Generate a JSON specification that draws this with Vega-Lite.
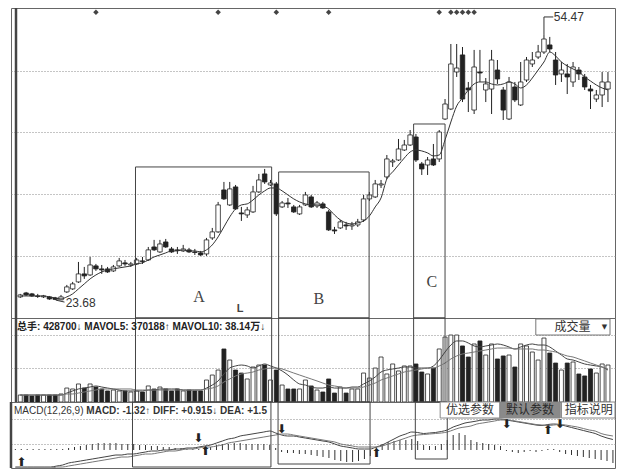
{
"$schema": "https://vega.github.io/schema/vega-lite/v6.json",
"padding": {"left": 9, "top": 6, "right": 10, "bottom": 7},
"background": "white",
"spacing": 0,
"bounds": "flush",
"config": {
  "view": {"stroke": "#666", "strokeWidth": 1},
  "concat": {"spacing": 0},
  "axis": {"minExtent": 0, "labels": false, "ticks": false, "domain": false, "title": null, "grid": true, "gridDash": [1, 2], "gridColor": "#8a8a8a", "gridWidth": 1}
},
"datasets": {
"k": [
{"i":0,"o":24.05,"h":24.40,"l":23.93,"c":24.28,"ma":24.16,"v":8.1,"m5":8.1,"m10":8.1,"dif":-1.7,"dea":-1.8,"mac":0.1},
{"i":1,"o":24.51,"h":24.63,"l":24.16,"c":24.28,"ma":24.16,"v":8.1,"m5":8.1,"m10":8.1,"dif":-1.7,"dea":-1.8,"mac":0.1},
{"i":2,"o":24.40,"h":24.51,"l":24.05,"c":24.16,"ma":24.16,"v":7.0,"m5":8.1,"m10":8.1,"dif":-1.7,"dea":-1.8,"mac":0.1},
{"i":3,"o":24.16,"h":24.40,"l":23.93,"c":24.10,"ma":24.16,"v":8.1,"m5":8.1,"m10":8.1,"dif":-1.7,"dea":-1.8,"mac":0.1},
{"i":4,"o":24.05,"h":24.28,"l":23.93,"c":24.16,"ma":24.16,"v":8.1,"m5":8.1,"m10":8.1,"dif":-1.7,"dea":-1.8,"mac":0.1},
{"i":5,"o":24.05,"h":24.16,"l":23.70,"c":23.81,"ma":24.05,"v":8.1,"m5":8.1,"m10":8.1,"dif":-1.7,"dea":-1.8,"mac":0.1},
{"i":6,"o":23.93,"h":24.05,"l":23.68,"c":23.76,"ma":23.93,"v":8.1,"m5":8.1,"m10":8.1,"dif":-1.7,"dea":-1.8,"mac":0.1},
{"i":7,"o":23.70,"h":24.28,"l":23.70,"c":24.05,"ma":23.81,"v":9.3,"m5":8.1,"m10":8.1,"dif":-1.6,"dea":-1.7,"mac":0.1},
{"i":8,"o":24.63,"h":25.44,"l":24.51,"c":25.21,"ma":24.05,"v":16.2,"m5":10.4,"m10":9.3,"dif":-1.5,"dea":-1.7,"mac":0.1},
{"i":9,"o":24.98,"h":25.79,"l":24.86,"c":25.56,"ma":24.40,"v":15.1,"m5":12.8,"m10":9.3,"dif":-1.3,"dea":-1.6,"mac":0.2},
{"i":10,"o":25.79,"h":28.11,"l":25.67,"c":26.72,"ma":24.98,"v":20.9,"m5":15.1,"m10":10.4,"dif":-1.2,"dea":-1.5,"mac":0.3},
{"i":11,"o":26.72,"h":27.53,"l":26.14,"c":26.49,"ma":25.56,"v":16.2,"m5":16.2,"m10":11.6,"dif":-1.1,"dea":-1.4,"mac":0.4},
{"i":12,"o":26.60,"h":28.69,"l":26.49,"c":27.76,"ma":26.14,"v":20.9,"m5":17.4,"m10":12.8,"dif":-1.0,"dea":-1.3,"mac":0.5},
{"i":13,"o":27.65,"h":27.88,"l":27.07,"c":27.30,"ma":26.60,"v":17.4,"m5":18.6,"m10":13.9,"dif":-0.9,"dea":-1.2,"mac":0.6,"f":1},
{"i":14,"o":27.30,"h":27.76,"l":26.72,"c":27.18,"ma":26.95,"v":15.1,"m5":17.4,"m10":15.1,"dif":-0.8,"dea":-1.1,"mac":0.7},
{"i":15,"o":27.30,"h":27.53,"l":26.84,"c":26.95,"ma":27.18,"v":12.8,"m5":16.2,"m10":15.1,"dif":-0.7,"dea":-1.0,"mac":0.7},
{"i":16,"o":27.07,"h":27.76,"l":26.95,"c":27.53,"ma":27.30,"v":13.9,"m5":15.1,"m10":15.1,"dif":-0.6,"dea":-0.9,"mac":0.7},
{"i":17,"o":27.65,"h":28.58,"l":27.53,"c":28.23,"ma":27.42,"v":12.8,"m5":13.9,"m10":15.1,"dif":-0.5,"dea":-0.8,"mac":0.7},
{"i":18,"o":28.00,"h":28.34,"l":27.65,"c":27.88,"ma":27.53,"v":12.8,"m5":12.8,"m10":15.1,"dif":-0.5,"dea":-0.7,"mac":0.6},
{"i":19,"o":27.76,"h":28.11,"l":27.53,"c":27.88,"ma":27.65,"v":11.6,"m5":12.8,"m10":15.1,"dif":-0.4,"dea":-0.7,"mac":0.6},
{"i":20,"o":27.88,"h":28.58,"l":27.76,"c":28.34,"ma":27.88,"v":12.8,"m5":12.8,"m10":13.9,"dif":-0.4,"dea":-0.6,"mac":0.6},
{"i":21,"o":28.23,"h":28.69,"l":27.88,"c":28.17,"ma":28.00,"v":11.6,"m5":12.8,"m10":13.9,"dif":-0.3,"dea":-0.5,"mac":0.5},
{"i":22,"o":28.34,"h":29.85,"l":28.23,"c":29.51,"ma":28.34,"v":18.6,"m5":13.9,"m10":13.9,"dif":-0.2,"dea":-0.4,"mac":0.5},
{"i":23,"o":29.85,"h":30.67,"l":29.39,"c":29.51,"ma":28.69,"v":15.1,"m5":13.9,"m10":13.9,"dif":-0.1,"dea":-0.4,"mac":0.4},
{"i":24,"o":29.27,"h":30.67,"l":29.16,"c":30.20,"ma":28.92,"v":17.4,"m5":15.1,"m10":13.9,"dif":-0.1,"dea":-0.3,"mac":0.4},
{"i":25,"o":30.43,"h":30.78,"l":29.74,"c":29.85,"ma":29.16,"v":15.1,"m5":15.1,"m10":13.9,"dif":0.0,"dea":-0.2,"mac":0.3},
{"i":26,"o":29.62,"h":29.85,"l":29.16,"c":29.27,"ma":29.39,"v":12.8,"m5":15.1,"m10":13.9,"dif":0.0,"dea":-0.1,"mac":0.3},
{"i":27,"o":29.51,"h":29.85,"l":29.04,"c":29.45,"ma":29.39,"v":15.1,"m5":15.1,"m10":13.9,"dif":0.1,"dea":-0.1,"mac":0.2},
{"i":28,"o":29.39,"h":30.09,"l":29.27,"c":29.62,"ma":29.51,"v":12.8,"m5":13.9,"m10":13.9,"dif":0.1,"dea":0.0,"mac":0.2},
{"i":29,"o":29.51,"h":29.74,"l":29.16,"c":29.27,"ma":29.39,"v":13.9,"m5":13.9,"m10":13.9,"dif":0.2,"dea":0.1,"mac":0.1},
{"i":30,"o":29.27,"h":29.62,"l":28.92,"c":29.21,"ma":29.39,"v":12.8,"m5":13.9,"m10":13.9,"dif":0.2,"dea":0.1,"mac":0.1},
{"i":31,"o":29.16,"h":29.39,"l":28.81,"c":28.92,"ma":29.27,"v":12.8,"m5":13.9,"m10":13.9,"dif":0.3,"dea":0.2,"mac":0.1},
{"i":32,"o":29.04,"h":30.90,"l":28.81,"c":30.67,"ma":29.51,"v":25.5,"m5":16.2,"m10":15.1,"dif":0.4,"dea":0.3,"mac":0.2},
{"i":33,"o":30.90,"h":32.06,"l":30.67,"c":31.60,"ma":30.09,"v":31.3,"m5":19.7,"m10":16.2,"dif":0.5,"dea":0.3,"mac":0.3},
{"i":34,"o":31.60,"h":35.08,"l":31.48,"c":34.73,"ma":31.02,"v":37.1,"m5":24.4,"m10":18.6,"dif":0.7,"dea":0.4,"mac":0.5,"f":1},
{"i":35,"o":36.47,"h":37.40,"l":35.31,"c":35.43,"ma":32.18,"v":61.5,"m5":32.5,"m10":23.2,"dif":0.9,"dea":0.5,"mac":0.6},
{"i":36,"o":34.73,"h":37.40,"l":34.61,"c":36.59,"ma":33.34,"v":48.7,"m5":39.4,"m10":26.7,"dif":1.1,"dea":0.7,"mac":0.6},
{"i":37,"o":36.82,"h":37.05,"l":34.15,"c":34.27,"ma":34.27,"v":37.1,"m5":41.8,"m10":30.2,"dif":1.2,"dea":0.8,"mac":0.7},
{"i":38,"o":33.80,"h":34.50,"l":32.87,"c":33.69,"ma":34.73,"v":33.6,"m5":42.9,"m10":32.5,"dif":1.4,"dea":0.9,"mac":0.7},
{"i":39,"o":33.57,"h":34.50,"l":33.22,"c":34.15,"ma":34.85,"v":26.7,"m5":41.8,"m10":33.6,"dif":1.5,"dea":1.0,"mac":0.6},
{"i":40,"o":33.92,"h":36.94,"l":33.80,"c":36.24,"ma":35.31,"v":40.6,"m5":39.4,"m10":34.8,"dif":1.6,"dea":1.1,"mac":0.6},
{"i":41,"o":36.24,"h":38.33,"l":36.12,"c":37.63,"ma":35.89,"v":42.9,"m5":41.8,"m10":37.1,"dif":1.7,"dea":1.2,"mac":0.6},
{"i":42,"o":38.33,"h":38.91,"l":37.17,"c":37.40,"ma":36.36,"v":42.9,"m5":44.1,"m10":38.3,"dif":1.8,"dea":1.3,"mac":0.6},
{"i":43,"o":37.05,"h":37.63,"l":36.94,"c":37.28,"ma":36.70,"v":25.5,"m5":41.8,"m10":39.4,"dif":1.9,"dea":1.4,"mac":0.5},
{"i":44,"o":37.17,"h":37.40,"l":33.45,"c":33.69,"ma":36.70,"v":37.1,"m5":39.4,"m10":39.4,"dif":1.7,"dea":1.5,"mac":0.2,"f":1},
{"i":45,"o":34.50,"h":35.19,"l":34.38,"c":34.96,"ma":36.36,"v":19.7,"m5":36.0,"m10":38.3,"dif":1.5,"dea":1.6,"mac":-0.2},
{"i":46,"o":34.96,"h":35.54,"l":34.38,"c":34.85,"ma":35.89,"v":15.1,"m5":31.3,"m10":36.0,"dif":1.4,"dea":1.6,"mac":-0.3},
{"i":47,"o":34.50,"h":34.73,"l":33.80,"c":33.92,"ma":35.43,"v":15.1,"m5":25.5,"m10":33.6,"dif":1.4,"dea":1.5,"mac":-0.3},
{"i":48,"o":33.69,"h":34.73,"l":33.57,"c":34.50,"ma":35.08,"v":15.1,"m5":20.9,"m10":31.3,"dif":1.3,"dea":1.4,"mac":-0.4},
{"i":49,"o":34.73,"h":36.24,"l":34.61,"c":35.89,"ma":34.85,"v":25.5,"m5":19.7,"m10":29.0,"dif":1.2,"dea":1.3,"mac":-0.4},
{"i":50,"o":35.66,"h":35.89,"l":34.38,"c":34.50,"ma":34.73,"v":18.6,"m5":17.4,"m10":26.7,"dif":1.1,"dea":1.2,"mac":-0.5},
{"i":51,"o":34.61,"h":35.19,"l":34.38,"c":34.96,"ma":34.73,"v":13.9,"m5":16.2,"m10":24.4,"dif":1.0,"dea":1.1,"mac":-0.6},
{"i":52,"o":34.85,"h":35.08,"l":34.27,"c":34.38,"ma":34.61,"v":11.6,"m5":16.2,"m10":22.0,"dif":0.9,"dea":1.0,"mac":-0.7},
{"i":53,"o":33.92,"h":34.15,"l":31.71,"c":31.83,"ma":34.27,"v":26.7,"m5":17.4,"m10":19.7,"dif":0.8,"dea":0.9,"mac":-0.8,"f":1},
{"i":54,"o":31.83,"h":32.18,"l":31.36,"c":31.71,"ma":33.57,"v":10.4,"m5":16.2,"m10":18.6,"dif":0.6,"dea":0.8,"mac":-1.0},
{"i":55,"o":32.06,"h":32.99,"l":31.94,"c":32.76,"ma":32.99,"v":17.4,"m5":16.2,"m10":17.4,"dif":0.4,"dea":0.6,"mac":-1.1},
{"i":56,"o":32.41,"h":32.76,"l":31.83,"c":32.29,"ma":32.64,"v":10.4,"m5":16.2,"m10":16.2,"dif":0.3,"dea":0.5,"mac":-1.2},
{"i":57,"o":32.29,"h":32.76,"l":31.83,"c":32.41,"ma":32.52,"v":15.1,"m5":17.4,"m10":16.2,"dif":0.2,"dea":0.4,"mac":-1.2},
{"i":58,"o":32.41,"h":33.11,"l":32.18,"c":32.76,"ma":32.64,"v":15.1,"m5":17.4,"m10":16.2,"dif":0.1,"dea":0.3,"mac":-1.1},
{"i":59,"o":32.99,"h":35.89,"l":32.76,"c":35.43,"ma":32.87,"v":33.6,"m5":20.9,"m10":17.4,"dif":0.1,"dea":0.3,"mac":-0.9},
{"i":60,"o":35.43,"h":36.24,"l":35.19,"c":35.89,"ma":33.45,"v":27.8,"m5":24.4,"m10":19.7,"dif":0.1,"dea":0.3,"mac":-0.6},
{"i":61,"o":35.66,"h":37.63,"l":35.54,"c":37.17,"ma":34.50,"v":39.4,"m5":29.0,"m10":22.0,"dif":0.3,"dea":0.3,"mac":0.3},
{"i":62,"o":37.05,"h":37.63,"l":36.70,"c":37.17,"ma":35.54,"v":52.2,"m5":34.8,"m10":25.5,"dif":0.5,"dea":0.4,"mac":0.6},
{"i":63,"o":37.98,"h":40.53,"l":37.75,"c":40.07,"ma":37.75,"v":32.5,"m5":37.1,"m10":27.8,"dif":0.8,"dea":0.6,"mac":0.8},
{"i":64,"o":39.72,"h":40.07,"l":39.14,"c":39.84,"ma":38.56,"v":44.1,"m5":38.3,"m10":30.2,"dif":1.1,"dea":0.8,"mac":0.9},
{"i":65,"o":39.95,"h":42.39,"l":39.84,"c":41.23,"ma":39.37,"v":36.0,"m5":39.4,"m10":32.5,"dif":1.4,"dea":1.0,"mac":1.0},
{"i":66,"o":41.11,"h":42.28,"l":41.00,"c":41.69,"ma":40.18,"v":41.8,"m5":40.6,"m10":34.8,"dif":1.6,"dea":1.2,"mac":1.0},
{"i":67,"o":41.69,"h":43.43,"l":41.58,"c":42.86,"ma":40.88,"v":41.8,"m5":40.6,"m10":36.0,"dif":1.8,"dea":1.4,"mac":1.1},
{"i":68,"o":42.62,"h":42.97,"l":39.72,"c":39.95,"ma":41.11,"v":44.1,"m5":39.4,"m10":37.1,"dif":1.75,"dea":1.5,"mac":0.9},
{"i":69,"o":39.49,"h":39.72,"l":38.21,"c":38.91,"ma":41.00,"v":34.8,"m5":39.4,"m10":38.3,"dif":1.65,"dea":1.55,"mac":0.5},
{"i":70,"o":39.37,"h":40.30,"l":38.21,"c":39.95,"ma":40.77,"v":32.5,"m5":39.4,"m10":39.4,"dif":1.7,"dea":1.6,"mac":0.4},
{"i":71,"o":40.07,"h":41.81,"l":39.25,"c":39.37,"ma":40.42,"v":39.4,"m5":41.8,"m10":39.4,"dif":1.75,"dea":1.65,"mac":0.4},
{"i":72,"o":40.07,"h":43.43,"l":39.72,"c":43.20,"ma":40.53,"v":61.5,"m5":48.7,"m10":41.8,"dif":1.85,"dea":1.7,"mac":0.6,"f":1},
{"i":73,"o":44.71,"h":47.03,"l":44.59,"c":46.45,"ma":42.28,"v":75.4,"m5":58.0,"m10":45.2,"dif":2.0,"dea":1.8,"mac":1.0},
{"i":74,"o":45.87,"h":53.42,"l":45.75,"c":51.10,"ma":44.36,"v":77.7,"m5":66.1,"m10":49.9,"dif":2.3,"dea":2.0,"mac":1.5,"f":1},
{"i":75,"o":50.17,"h":53.42,"l":49.59,"c":50.63,"ma":46.22,"v":77.7,"m5":70.8,"m10":53.4,"dif":2.5,"dea":2.2,"mac":1.7,"f":1},
{"i":76,"o":52.15,"h":53.07,"l":46.68,"c":47.03,"ma":47.15,"v":65.0,"m5":70.8,"m10":55.7,"dif":2.7,"dea":2.3,"mac":1.5,"f":1},
{"i":77,"o":48.31,"h":49.01,"l":45.52,"c":48.08,"ma":48.08,"v":52.2,"m5":68.4,"m10":56.8,"dif":2.8,"dea":2.4,"mac":1.0,"f":1},
{"i":78,"o":45.75,"h":52.73,"l":45.29,"c":50.75,"ma":48.78,"v":67.3,"m5":65.0,"m10":58.0,"dif":2.9,"dea":2.6,"mac":0.8,"f":1},
{"i":79,"o":50.17,"h":52.73,"l":49.01,"c":50.05,"ma":49.01,"v":70.8,"m5":63.8,"m10":59.2,"dif":3.0,"dea":2.7,"mac":0.7},
{"i":80,"o":48.08,"h":49.47,"l":46.68,"c":48.78,"ma":49.01,"v":54.5,"m5":65.0,"m10":60.3,"dif":3.0,"dea":2.8,"mac":0.6},
{"i":81,"o":48.19,"h":52.73,"l":45.29,"c":51.56,"ma":48.78,"v":67.3,"m5":66.1,"m10":61.5,"dif":3.1,"dea":2.9,"mac":0.5},
{"i":82,"o":50.40,"h":51.56,"l":48.78,"c":49.36,"ma":48.66,"v":49.9,"m5":67.3,"m10":62.6,"dif":3.1,"dea":3.0,"mac":0.4},
{"i":83,"o":48.08,"h":48.43,"l":44.59,"c":45.75,"ma":48.78,"v":53.4,"m5":66.1,"m10":62.6,"dif":3.0,"dea":3.0,"mac":-0.1},
{"i":84,"o":44.71,"h":49.59,"l":44.59,"c":49.01,"ma":49.01,"v":54.5,"m5":63.8,"m10":62.6,"dif":2.9,"dea":2.95,"mac":-0.2},
{"i":85,"o":48.43,"h":49.01,"l":46.68,"c":46.92,"ma":48.78,"v":40.6,"m5":61.5,"m10":61.5,"dif":2.8,"dea":2.85,"mac":-0.3},
{"i":86,"o":46.34,"h":51.33,"l":46.22,"c":49.01,"ma":48.31,"v":67.3,"m5":63.8,"m10":61.5,"dif":2.7,"dea":2.75,"mac":-0.2},
{"i":87,"o":49.24,"h":51.91,"l":49.01,"c":51.56,"ma":48.66,"v":65.0,"m5":66.1,"m10":61.5,"dif":2.6,"dea":2.65,"mac":-0.1},
{"i":88,"o":51.10,"h":52.49,"l":50.75,"c":51.56,"ma":49.47,"v":58.0,"m5":67.3,"m10":61.5,"dif":2.5,"dea":2.55,"mac":-0.2},
{"i":89,"o":51.91,"h":53.31,"l":51.68,"c":52.49,"ma":50.40,"v":48.7,"m5":66.1,"m10":60.3,"dif":2.45,"dea":2.5,"mac":-0.1},
{"i":90,"o":52.49,"h":54.47,"l":52.26,"c":54.00,"ma":51.33,"v":74.2,"m5":66.1,"m10":60.3,"dif":2.55,"dea":2.45,"mac":0.1},
{"i":91,"o":53.31,"h":54.24,"l":52.49,"c":52.84,"ma":52.49,"v":56.8,"m5":63.8,"m10":59.2,"dif":2.6,"dea":2.5,"mac":0.1},
{"i":92,"o":51.56,"h":52.49,"l":48.66,"c":49.82,"ma":52.03,"v":45.2,"m5":59.2,"m10":58.0,"dif":2.55,"dea":2.55,"mac":-0.2},
{"i":93,"o":49.94,"h":51.33,"l":49.01,"c":50.40,"ma":51.33,"v":37.1,"m5":54.5,"m10":55.7,"dif":2.4,"dea":2.5,"mac":-0.4},
{"i":94,"o":49.94,"h":51.10,"l":47.61,"c":49.59,"ma":50.87,"v":45.2,"m5":49.9,"m10":53.4,"dif":2.25,"dea":2.4,"mac":-0.5},
{"i":95,"o":49.01,"h":51.33,"l":48.43,"c":50.75,"ma":50.52,"v":46.4,"m5":48.7,"m10":52.2,"dif":2.1,"dea":2.3,"mac":-0.6},
{"i":96,"o":50.40,"h":50.75,"l":49.24,"c":49.94,"ma":50.17,"v":32.5,"m5":46.4,"m10":49.9,"dif":1.95,"dea":2.15,"mac":-0.7},
{"i":97,"o":49.59,"h":49.94,"l":48.08,"c":48.43,"ma":49.59,"v":30.2,"m5":44.1,"m10":47.6,"dif":1.8,"dea":2.0,"mac":-0.8},
{"i":98,"o":48.19,"h":48.66,"l":45.87,"c":47.96,"ma":49.12,"v":38.3,"m5":42.9,"m10":45.2,"dif":1.65,"dea":1.9,"mac":-0.9},
{"i":99,"o":47.03,"h":48.08,"l":46.68,"c":47.50,"ma":48.66,"v":33.6,"m5":41.8,"m10":42.9,"dif":1.4,"dea":1.65,"mac":-1.0},
{"i":100,"o":47.50,"h":50.17,"l":46.10,"c":49.01,"ma":48.31,"v":44.1,"m5":40.6,"m10":40.6,"dif":1.2,"dea":1.5,"mac":-1.1},
{"i":101,"o":48.19,"h":50.17,"l":46.68,"c":49.01,"ma":48.08,"v":42.9,"m5":37.1,"m10":38.3,"dif":1.05,"dea":1.4,"mac":-1.3}
],
"boxes": [
{"n":"A","from":19.8,"to":43.2,"top":39.14,"mb":-1.7},
{"n":"B","from":44.4,"to":59.95,"top":38.56,"mb":-1.4},
{"n":"C","from":67.6,"to":73.0,"top":44.13,"mb":-0.9}
]
},
"vconcat": [
{
  "width": 604, "height": 310,
  "encoding": {
    "x": {"type": "quantitative", "scale": {"domain": [-0.735, 101.35], "nice": false, "zero": false}, "axis": null}
  },
  "layer": [
    {"data": {"name": "k"}, "mark": {"type": "rule", "color": "#222", "strokeWidth": 1},
     "encoding": {"x": {"field": "i", "type": "quantitative"},
       "y": {"field": "l", "type": "quantitative", "scale": {"domain": [21.6, 57.6], "nice": false, "zero": false}, "axis": {"values": [28.81, 36.01, 43.2, 50.29]}},
       "y2": {"field": "h"}}},
    {"data": {"name": "k"}, "mark": {"type": "bar", "size": 4.5, "stroke": "#222", "strokeWidth": 0.8},
     "encoding": {"x": {"field": "i", "type": "quantitative"}, "y": {"field": "o", "type": "quantitative"}, "y2": {"field": "c"},
       "fill": {"condition": {"test": "datum.c >= datum.o", "value": "#ffffff"}, "value": "#222"}}},
    {"data": {"name": "k"}, "mark": {"type": "line", "color": "#333", "strokeWidth": 1, "interpolate": "monotone"},
     "encoding": {"x": {"field": "i", "type": "quantitative"}, "y": {"field": "ma", "type": "quantitative"}}},
    {"data": {"name": "k"}, "transform": [{"filter": "datum.f == 1"}],
     "mark": {"type": "point", "shape": "diamond", "filled": true, "color": "#444", "size": 30, "opacity": 1},
     "encoding": {"x": {"field": "i", "type": "quantitative"}, "y": {"datum": 57.1}}},
    {"data": {"name": "boxes"}, "mark": {"type": "rect", "fillOpacity": 0, "stroke": "#444", "strokeWidth": 1},
     "encoding": {"x": {"field": "from", "type": "quantitative"}, "x2": {"field": "to"}, "y": {"field": "top", "type": "quantitative"}, "y2": {"datum": 21.6}}},
    {"data": {"values": [{"t": "A", "i": 30.7, "p": 24.05}, {"t": "B", "i": 51.3, "p": 23.81}, {"t": "C", "i": 70.75, "p": 25.79}]},
     "mark": {"type": "text", "font": "Liberation Serif", "fontSize": 16, "color": "#444", "baseline": "middle", "align": "center"},
     "encoding": {"x": {"field": "i", "type": "quantitative"}, "y": {"field": "p", "type": "quantitative"}, "text": {"field": "t"}}},
    {"data": {"values": [{"t": "L", "i": 37.8, "p": 22.6}]},
     "mark": {"type": "text", "font": "Liberation Sans", "fontWeight": "bold", "fontSize": 11, "color": "#444", "baseline": "middle", "align": "center"},
     "encoding": {"x": {"field": "i", "type": "quantitative"}, "y": {"field": "p", "type": "quantitative"}, "text": {"field": "t"}}},
    {"data": {"values": [{"a": 6.1, "b": 7.6, "pa": 23.68, "pb": 23.45}]},
     "mark": {"type": "rule", "color": "#333", "strokeWidth": 1},
     "encoding": {"x": {"field": "a", "type": "quantitative"}, "x2": {"field": "b"}, "y": {"field": "pa", "type": "quantitative"}, "y2": {"field": "pb"}}},
    {"data": {"values": [{"t": "23.68", "i": 7.8, "p": 23.35}]},
     "mark": {"type": "text", "font": "Liberation Sans", "fontSize": 12, "color": "#333", "baseline": "middle", "align": "left"},
     "encoding": {"x": {"field": "i", "type": "quantitative"}, "y": {"field": "p", "type": "quantitative"}, "text": {"field": "t"}}},
    {"data": {"values": [{"a": 90, "b": 90, "pa": 54.47, "pb": 56.56}, {"a": 90, "b": 91.6, "pa": 56.56, "pb": 56.56}]},
     "mark": {"type": "rule", "color": "#333", "strokeWidth": 1},
     "encoding": {"x": {"field": "a", "type": "quantitative"}, "x2": {"field": "b"}, "y": {"field": "pa", "type": "quantitative"}, "y2": {"field": "pb"}}},
    {"data": {"values": [{"t": "54.47", "i": 91.7, "p": 56.56}]},
     "mark": {"type": "text", "font": "Liberation Sans", "fontSize": 12, "color": "#333", "baseline": "middle", "align": "left"},
     "encoding": {"x": {"field": "i", "type": "quantitative"}, "y": {"field": "p", "type": "quantitative"}, "text": {"field": "t"}}},
    {"data": {"values": [{"a": -0.735, "pa": 21.6, "pb": 57.6}]},
     "mark": {"type": "rule", "color": "#444", "strokeWidth": 2.5},
     "encoding": {"x": {"field": "a", "type": "quantitative"}, "y": {"field": "pa", "type": "quantitative"}, "y2": {"field": "pb"}}}
  ]
},
{
  "width": 604, "height": 84,
  "encoding": {
    "x": {"type": "quantitative", "scale": {"domain": [-0.735, 101.35], "nice": false, "zero": false}, "axis": null}
  },
  "layer": [
    {"data": {"name": "k"}, "mark": {"type": "bar", "size": 4, "stroke": "#222", "strokeWidth": 0.8},
     "encoding": {"x": {"field": "i", "type": "quantitative"},
       "y": {"field": "v", "type": "quantitative", "scale": {"domain": [0, 97.44], "nice": false}, "axis": {"values": [39.4, 77.7]}},
       "fill": {"condition": {"test": "datum.c >= datum.o", "value": "#ffffff"}, "value": "#222"}}},
    {"data": {"name": "k"}, "mark": {"type": "line", "color": "#444", "strokeWidth": 1, "interpolate": "monotone"},
     "encoding": {"x": {"field": "i", "type": "quantitative"}, "y": {"field": "m5", "type": "quantitative"}}},
    {"data": {"name": "k"}, "mark": {"type": "line", "color": "#777", "strokeWidth": 1, "interpolate": "monotone"},
     "encoding": {"x": {"field": "i", "type": "quantitative"}, "y": {"field": "m10", "type": "quantitative"}}},
    {"data": {"name": "boxes"}, "mark": {"type": "rect", "fillOpacity": 0, "stroke": "#444", "strokeWidth": 1},
     "encoding": {"x": {"field": "from", "type": "quantitative"}, "x2": {"field": "to"}, "y": {"datum": 0}, "y2": {"datum": 97.44}}},
    {"data": {"values": [{"a": 88.6, "b": 101.35, "pa": 77.7, "pb": 96.3}]},
     "mark": {"type": "rect", "fill": "#ffffff", "stroke": "#777", "strokeWidth": 1},
     "encoding": {"x": {"field": "a", "type": "quantitative"}, "x2": {"field": "b"}, "y": {"field": "pa", "type": "quantitative"}, "y2": {"field": "pb"}}},
    {"data": {"values": [{"t": "成交量", "i": 94.9, "p": 87.0}]},
     "mark": {"type": "text", "font": "Noto Sans CJK SC", "fontSize": 12, "color": "#333", "baseline": "middle", "align": "center"},
     "encoding": {"x": {"field": "i", "type": "quantitative"}, "y": {"field": "p", "type": "quantitative"}, "text": {"field": "t"}}},
    {"data": {"values": [{"t": "▼", "i": 100.4, "p": 87.5}]},
     "mark": {"type": "text", "font": "DejaVu Sans", "fontSize": 7, "color": "#333", "baseline": "middle", "align": "center"},
     "encoding": {"x": {"field": "i", "type": "quantitative"}, "y": {"field": "p", "type": "quantitative"}, "text": {"field": "t"}}},
    {"data": {"values": [{"t": "总手: 428700↓ MAVOL5: 370188↑ MAVOL10: 38.14万↓", "i": -0.55, "p": 87.0}]},
     "mark": {"type": "text", "font": "Liberation Sans, Noto Sans CJK SC", "fontSize": 10, "fontWeight": "bold", "color": "#222", "baseline": "middle", "align": "left"},
     "encoding": {"x": {"field": "i", "type": "quantitative"}, "y": {"field": "p", "type": "quantitative"}, "text": {"field": "t"}}},
    {"data": {"values": [{"a": -0.735, "pa": 0, "pb": 97.44}]},
     "mark": {"type": "rule", "color": "#444", "strokeWidth": 2.5},
     "encoding": {"x": {"field": "a", "type": "quantitative"}, "y": {"field": "pa", "type": "quantitative"}, "y2": {"field": "pb"}}}
  ]
},
{
  "width": 604, "height": 66,
  "encoding": {
    "x": {"type": "quantitative", "scale": {"domain": [-0.735, 101.35], "nice": false, "zero": false}, "axis": null}
  },
  "layer": [
    {"data": {"name": "k"}, "mark": {"type": "rule", "color": "#333", "strokeWidth": 1},
     "encoding": {"x": {"field": "i", "type": "quantitative"},
       "y": {"field": "mac", "type": "quantitative", "scale": {"domain": [-1.8, 4.8], "nice": false, "zero": false}, "axis": {"values": [0.63, 3.13]}},
       "y2": {"datum": 0}}},
    {"data": {"name": "k"}, "mark": {"type": "line", "color": "#444", "strokeWidth": 1, "interpolate": "monotone"},
     "encoding": {"x": {"field": "i", "type": "quantitative"}, "y": {"field": "dif", "type": "quantitative"}}},
    {"data": {"name": "k"}, "mark": {"type": "line", "color": "#777", "strokeWidth": 1, "interpolate": "monotone"},
     "encoding": {"x": {"field": "i", "type": "quantitative"}, "y": {"field": "dea", "type": "quantitative"}}},
    {"data": {"name": "boxes"}, "mark": {"type": "rect", "fillOpacity": 0, "stroke": "#444", "strokeWidth": 1},
     "encoding": {"x": {"field": "from", "type": "quantitative"}, "x2": {"field": "to"}, "y": {"field": "mb", "type": "quantitative"}, "y2": {"datum": 4.8}}},
    {"data": {"values": [{"t": "优选参数", "a": 71.8, "b": 81.9, "m": 76.85}, {"t": "默认参数", "a": 81.9, "b": 92.1, "m": 87.0}, {"t": "指标说明", "a": 92.3, "b": 101.35, "m": 96.9}]},
     "layer": [
       {"mark": {"type": "rect", "stroke": "#888", "strokeWidth": 1},
        "encoding": {"x": {"field": "a", "type": "quantitative"}, "x2": {"field": "b"}, "y": {"datum": 3.2}, "y2": {"datum": 4.8},
          "fill": {"condition": {"test": "datum.t == '默认参数'", "value": "#8a8a8a"}, "value": "#ffffff"}}},
       {"mark": {"type": "text", "font": "Noto Sans CJK SC", "fontSize": 12, "baseline": "middle", "align": "center"},
        "encoding": {"x": {"field": "m", "type": "quantitative"}, "y": {"datum": 4.0}, "text": {"field": "t"},
          "color": {"condition": {"test": "datum.t == '默认参数'", "value": "#2a2a2a"}, "value": "#333"}}}
     ]},
    {"data": {"values": [{"t": "MACD(12,26,9)", "i": -0.23, "p": 3.9}]},
     "mark": {"type": "text", "font": "Liberation Sans", "fontSize": 10, "color": "#333", "baseline": "middle", "align": "left"},
     "encoding": {"x": {"field": "i", "type": "quantitative"}, "y": {"field": "p", "type": "quantitative"}, "text": {"field": "t"}}},
    {"data": {"values": [{"t": "MACD: -1.32↑ DIFF: +0.915↓ DEA: +1.5", "i": 12.0, "p": 3.9}]},
     "mark": {"type": "text", "font": "Liberation Sans", "fontSize": 10, "fontWeight": "bold", "color": "#333", "baseline": "middle", "align": "left"},
     "encoding": {"x": {"field": "i", "type": "quantitative"}, "y": {"field": "p", "type": "quantitative"}, "text": {"field": "t"}}},
    {"data": {"values": [
       {"g": "⬆", "i": 1, "p": -1.2}, {"g": "⬇", "i": 30.9, "p": 1.2}, {"g": "⬆", "i": 32.1, "p": -0.1},
       {"g": "⬇", "i": 45, "p": 2.1}, {"g": "⬆", "i": 61, "p": -0.3}, {"g": "⬇", "i": 83, "p": 2.6},
       {"g": "⬆", "i": 90, "p": 2.0}, {"g": "⬇", "i": 92, "p": 2.6}]},
     "mark": {"type": "text", "font": "DejaVu Sans", "fontSize": 12, "color": "#222", "baseline": "middle", "align": "center"},
     "encoding": {"x": {"field": "i", "type": "quantitative"}, "y": {"field": "p", "type": "quantitative"}, "text": {"field": "g"}}},
    {"data": {"values": [{"a": -0.735, "pa": -1.8, "pb": 4.8}]},
     "mark": {"type": "rule", "color": "#444", "strokeWidth": 2.5},
     "encoding": {"x": {"field": "a", "type": "quantitative"}, "y": {"field": "pa", "type": "quantitative"}, "y2": {"field": "pb"}}}
  ]
}
]
}
